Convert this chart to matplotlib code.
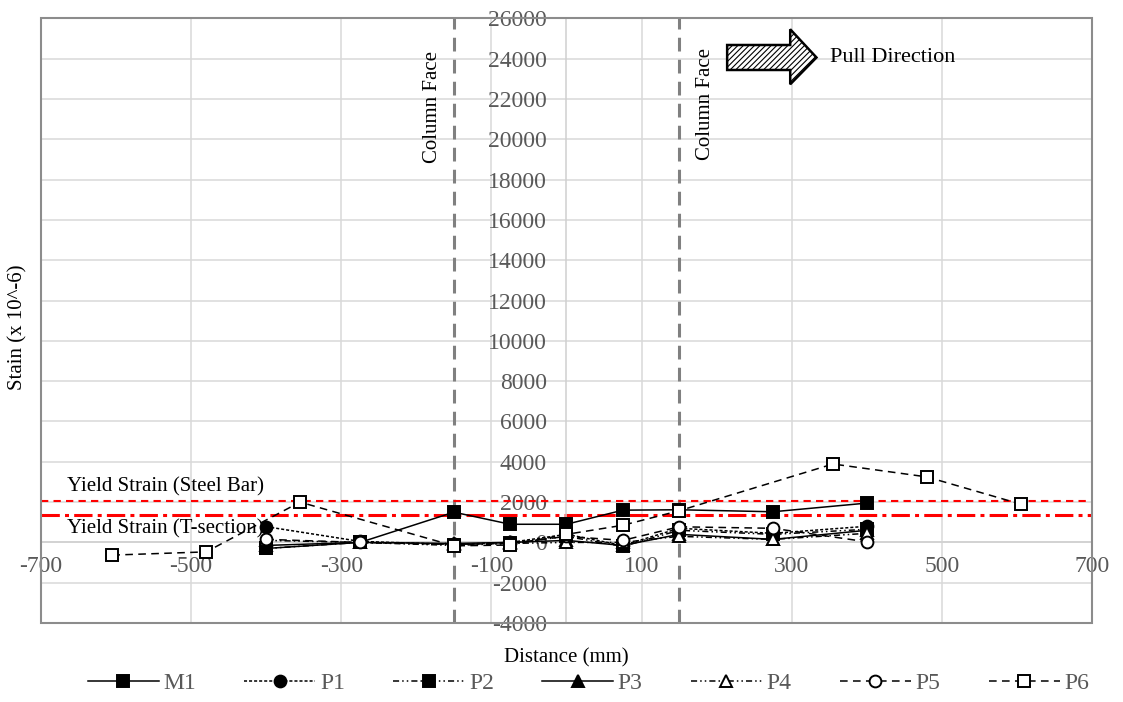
import matplotlib
matplotlib.use('Agg')
import matplotlib.pyplot as plt
from matplotlib.patches import Polygon, Rectangle

plt.rcParams['font.family'] = ['Liberation Serif', 'DejaVu Serif']
plt.rcParams['hatch.linewidth'] = 0.8
plt.rcParams['axes.unicode_minus'] = False

# ---------------- data ----------------
positions = [-400, -275, -150, -75, 0, 75, 150, 275, 400]
m1 = [-300, 0, 1500, 900, 900, 1600, 1620, 1520, 1950]
p1 = [780, 50, -100, 0, 400, -150, 700, 450, 800]
p2 = [-300, 0, -150, -50, 300, -200, 600, 400, 650]
p3 = [-150, 0, -50, 0, 100, -150, 400, 150, 600]
p4 = [100, 0, -100, -50, 0, 0, 300, 150, 450]
p5 = [150, 0, -100, -50, 300, 100, 775, 700, 30]
p6_positions = [-605, -480, -355, -150, -75, 0, 75, 150, 355, 480, 605]
p6 = [-630, -470, 2000, -170, -130, 400, 850, 1570, 3890, 3250, 1900]
series_labels = ['M1', 'P1', 'P2', 'P3', 'P4', 'P5', 'P6']

yield_steel_bar = 2070
yield_t_section = 1350
column_faces = [-150, 150]
xticks = list(range(-700, 701, 200))
yticks = list(range(-4000, 26001, 2000))

# ---------------- figure ----------------
fig = plt.figure(figsize=(11.23, 7.02), dpi=100)
ax = fig.add_axes([0.0365, 0.1125, 0.9359, 0.8613])
ax.set_xlim(-700, 700)
ax.set_ylim(-4000, 26000)
ax.set_xticks(xticks)
ax.set_yticks(yticks)
ax.grid(True, color='#d9d9d9', lw=1.1)
ax.set_axisbelow(True)

for s in ['top', 'right']:
    ax.spines[s].set_visible(False)
ax.spines['left'].set_position(('data', 0))
ax.spines['bottom'].set_position(('data', 0))
ax.spines['left'].set_color('#d0d0d0')
ax.spines['bottom'].set_color('#d0d0d0')
ax.spines['left'].set_linewidth(1.1)
ax.spines['bottom'].set_linewidth(1.1)
ax.add_patch(Rectangle((0, 0), 1, 1, transform=ax.transAxes, fill=False,
                       ec='#8c8c8c', lw=1.5, clip_on=False, zorder=5))

ax.tick_params(axis='both', length=0, labelsize=17, labelcolor='#595959')
ax.tick_params(axis='x', pad=10)
ax.tick_params(axis='y', pad=14)

# column face lines
for cf in column_faces:
    ax.axvline(cf, color='#808080', lw=2.2, dashes=(4.5, 2.7), zorder=2)

# yield lines
ax.axhline(yield_steel_bar, color='#ff0000', lw=1.5, dashes=(3.5, 2.5), zorder=2)
ax.axhline(yield_t_section, color='#ff0000', lw=2.2, dashes=(6, 1.7, 1.3, 1.7), zorder=2)

# series
ms = 8.5
common = dict(color='black', lw=1.1, ms=ms, mec='black', mew=1.4, zorder=3)
ax.plot(positions, m1, marker='s', mfc='black', ls='-', label=series_labels[0], **common)
ax.plot(positions, p1, marker='o', mfc='black', dashes=(2, 1.3), label=series_labels[1], **common)
ax.plot(positions, p2, marker='s', mfc='black', dashes=(4, 2, 1, 2, 1, 2), label=series_labels[2], **common)
ax.plot(positions, p3, marker='^', mfc='black', ls='-', label=series_labels[3], **common)
ax.plot(positions, p4, marker='^', mfc='white', dashes=(4, 2, 1, 2, 1, 2), label=series_labels[4], **common)
ax.plot(positions, p5, marker='o', mfc='white', dashes=(5, 3.5), label=series_labels[5], **common)
ax.plot(p6_positions, p6, marker='s', mfc='white', dashes=(5, 3.5), label=series_labels[6], **common)

# annotations
ax.text(-665, 2745, 'Yield Strain (Steel Bar)', fontsize=15, va='center', ha='left', zorder=4)
ax.text(-665, 660, 'Yield Strain (T-section)', fontsize=15, va='center', ha='left', zorder=4)
ax.text(-178, 24400, 'Column Face', rotation=90, fontsize=15, ha='center', va='top')
ax.text(185, 24550, 'Column Face', rotation=90, fontsize=15, ha='center', va='top')

arrow = Polygon([(214, 23440), (298, 23440), (298, 22730), (333, 24060),
                 (298, 25460), (298, 24680), (214, 24680)], closed=True,
                facecolor='white', edgecolor='black', lw=1.8, hatch='//////', zorder=4)
ax.add_patch(arrow)
ax.text(351, 24060, 'Pull Direction', fontsize=16, va='center', ha='left')

ax.set_xlabel('Distance (mm)', fontsize=15, color='black')
ax.xaxis.set_label_coords(0.5, -0.058)
ax.xaxis.label.set_va('center')
ax.set_ylabel('Stain (x 10^-6)', fontsize=15, color='black')
ax.yaxis.set_label_coords(-0.022, 0.49)
ax.yaxis.label.set_va('center')

leg = fig.legend(loc='center', bbox_to_anchor=(0.524, 0.027), ncol=7, frameon=False,
                 fontsize=17, handlelength=3.0, handletextpad=0.2, columnspacing=2.05,
                 labelcolor='#595959')

fig.savefig('out.png', dpi=100)
